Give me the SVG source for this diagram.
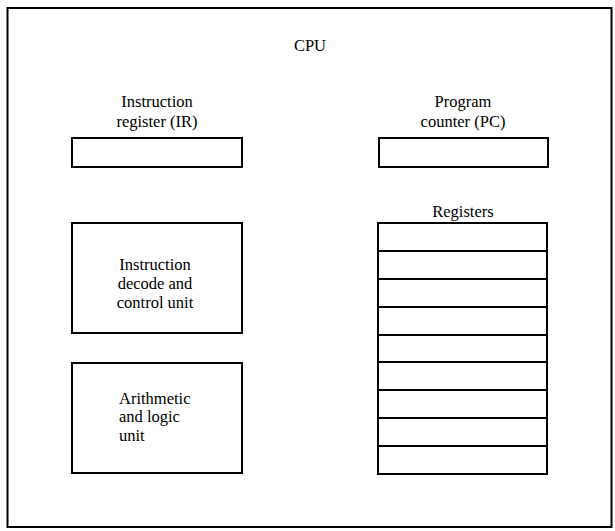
<svg xmlns="http://www.w3.org/2000/svg" width="615" height="531" viewBox="0 0 615 531" font-family="Liberation Serif, serif">
<style>
.b{fill:#fff;stroke:#000;stroke-width:2}
.t{font-size:16.5px;fill:#000;text-anchor:middle}
.l{text-anchor:start}
</style>
<rect width="615" height="531" fill="#fff"/>
<g id="cpu">
<rect class="b" x="7.5" y="8" width="604" height="519"/>
<text class="t" x="310" y="51">CPU</text>
</g>
<g id="ir">
<text class="t" x="157" y="107">Instruction</text>
<text class="t" x="157" y="127">register (IR)</text>
<rect class="b" x="72" y="138" width="170" height="29"/>
</g>
<g id="pc">
<text class="t" x="463" y="107">Program</text>
<text class="t" x="463" y="127">counter (PC)</text>
<rect class="b" x="379" y="138" width="169" height="29"/>
</g>
<g id="decode">
<rect class="b" x="72" y="223" width="170" height="110"/>
<text class="t" x="155" y="270">Instruction</text>
<text class="t" x="155" y="289">decode and</text>
<text class="t" x="155" y="308">control unit</text>
</g>
<g id="alu">
<rect class="b" x="72" y="363" width="170" height="110"/>
<text class="t l" x="119" y="404">Arithmetic</text>
<text class="t l" x="119" y="422">and logic</text>
<text class="t l" x="119" y="441">unit</text>
</g>
<g id="registers">
<text class="t" x="463" y="217">Registers</text>
<rect class="b" x="378" y="223" width="169" height="251"/>
<path d="M378 251H547M378 279H547M378 307H547M378 335H547M378 362H547M378 390H547M378 418H547M378 446H547" stroke="#000" stroke-width="2" fill="none"/>
</g>
<g id="connectors"></g>
</svg>
